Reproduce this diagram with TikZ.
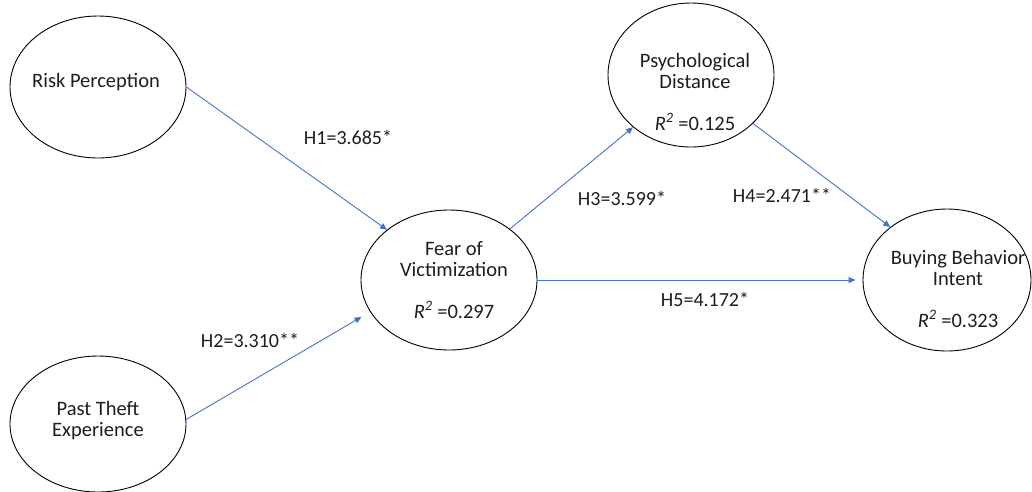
\documentclass[tikz,border=0pt]{standalone}
\usepackage{fontspec}
\setmainfont{Carlito}
\usetikzlibrary{shapes.geometric,arrows.meta}
\definecolor{pathblue}{HTML}{4472C4}
\definecolor{inktext}{HTML}{1E1E1E}
\newcommand{\rsq}{\textit{R\textsuperscript{2}}}
\begin{document}
\begin{tikzpicture}[x=1pt,y=-1pt,
  construct/.style={ellipse,draw=black,line width=0.9pt,inner sep=0pt},
  caption/.style={align=center,inner sep=0pt,font=\fontsize{20.5}{21}\selectfont,text=inktext},
  coef/.style={inner sep=0pt,font=\fontsize{20}{21}\selectfont,text=inktext},
  hyp/.style={draw=pathblue,line width=0.9pt,-{Triangle[length=7pt,width=6pt]}}]
  % canvas
  \fill[white] (0,0) rectangle (1032,491);
  \useasboundingbox (0,0) rectangle (1032,491);

  % latent constructs
  \node[construct,minimum width=176pt,minimum height=142pt] (rp) at (98,87) {};
  \node[construct,minimum width=176pt,minimum height=136pt] (pt) at (98,424) {};
  \node[construct,minimum width=176pt,minimum height=140pt] (fv) at (449,280) {};
  \node[construct,minimum width=166pt,minimum height=144pt] (pd) at (691,75) {};
  \node[construct,minimum width=168pt,minimum height=142pt] (bb) at (947,280) {};

  % construct names and explained variance
  \node[caption] (rpT) at (96,82) {Risk Perception};
  \node[caption] (ptT) at (98,421) {Past Theft\\Experience};
  \node[caption] (fvT) at (454,280) {Fear of\\Victimization\\[21pt]\rsq{} =0.297};
  \node[caption] (pdT) at (695,91.5) {Psychological\\Distance\\[21pt]\rsq{} =0.125};
  \node[caption] (bbT) at (958,288.5) {Buying Behavior\\Intent\\[21pt]\rsq{} =0.323};

  % structural paths
  \draw[hyp] (rp.0) -- (fv.141);
  \draw[hyp,shorten >=10pt] (pt.3) -- (fv.202);
  \draw[hyp] (fv.40) -- (pd.222);
  \draw[hyp] (pd.-38) -- (bb.137);
  \draw[hyp,shorten >=7pt] (fv.0) -- (bb.180);

  % path coefficients
  \node[coef] (h1) at (348,137) {H1=3.685*};
  \node[coef] (h2) at (250,340) {H2=3.310**};
  \node[coef] (h3) at (622,198) {H3=3.599*};
  \node[coef] (h4) at (782,195) {H4=2.471**};
  \node[coef] (h5) at (705,299) {H5=4.172*};
\end{tikzpicture}
\end{document}
